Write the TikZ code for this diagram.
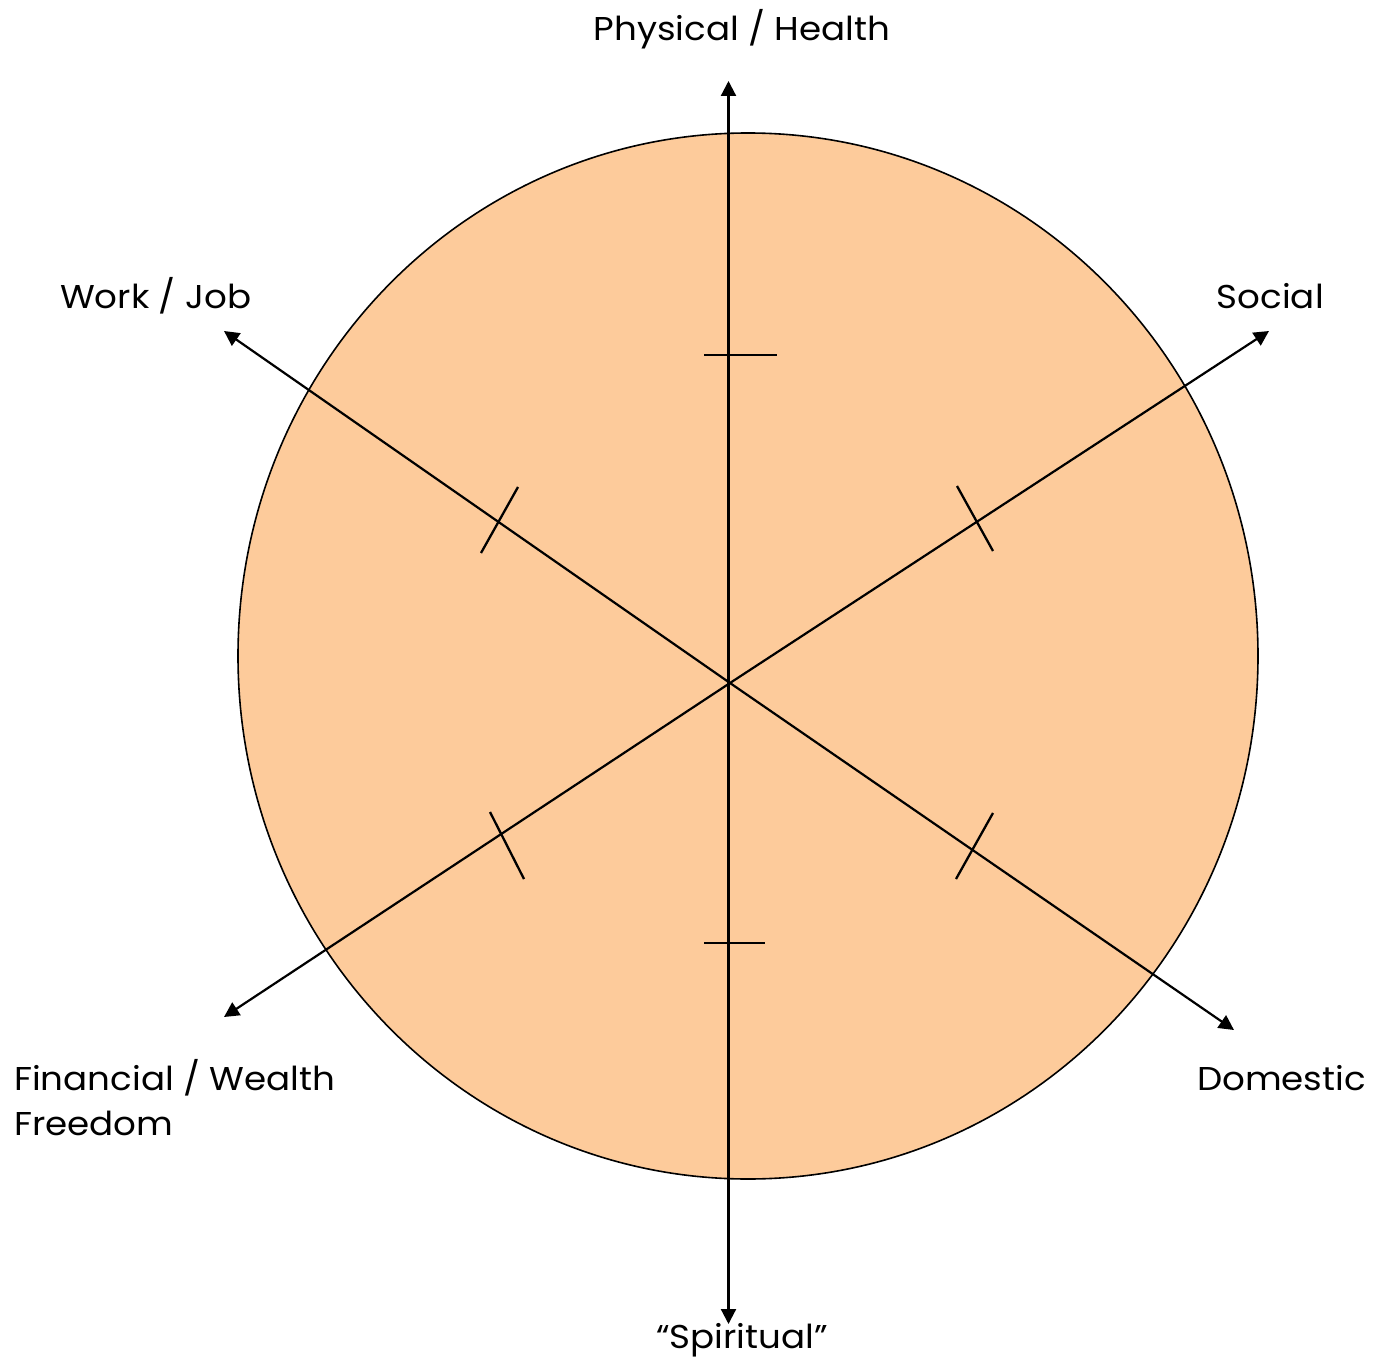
\documentclass[tikz,border=0pt]{standalone}
\usepackage{fontspec}
\setmainfont[FakeStretch=1.08]{Poppins}
\usetikzlibrary{arrows.meta}
\definecolor{wheelfill}{RGB}{253,203,155}
\begin{document}
\begin{tikzpicture}[x=1pt,y=-1pt,
  tip/.tip={Triangle[length=15pt,width=15pt]},
  axis/.style={line width=2.2pt,-tip},
  tick/.style={line width=2.3pt},
  lbl/.style={font=\fontsize{33}{45}\selectfont,inner sep=0pt}]
  \useasboundingbox (0,0) rectangle (1385,1359);
  % wheel
  \draw[fill=wheelfill,line width=1.6pt] (748,656) ellipse [x radius=510, y radius=523];
  % hub and axis ends
  \coordinate (hub) at (730,683);
  \coordinate (up) at (728.5,81);
  \coordinate (down) at (728.5,1324);
  \coordinate (wj) at (224,331);
  \coordinate (so) at (1269,331);
  \coordinate (fi) at (224,1017);
  \coordinate (dm) at (1234,1030);
  \draw[line width=2.2pt,tip-tip] (up) -- (down);
  \draw[axis] (hub) -- (wj);
  \draw[axis] (hub) -- (dm);
  \draw[axis] (hub) -- (so);
  \draw[axis] (hub) -- (fi);
  % tick marks
  \draw[tick] (704,355) -- (777,355);
  \draw[tick] (704,943) -- (765,943);
  \draw[tick] (518,487) -- (481,553);
  \draw[tick] (957,486) -- (993,551);
  \draw[tick] (993,813) -- (956,879);
  \draw[tick] (490,812) -- (524,879);
  % labels
  \node[lbl] (tPH) at (742,29) {Physical / Health};
  \node[lbl,anchor=west] (tWJ) at (60,296) {Work / Job};
  \node[lbl,anchor=east] (tSO) at (1324,296) {Social};
  \node[lbl,anchor=west,align=left] (tFI) at (14,1098) {Financial / Wealth\\Freedom};
  \node[lbl,anchor=east] (tDM) at (1366,1078) {Domestic};
  \node[lbl] (tSP) at (742,1340) {“Spiritual”};
\end{tikzpicture}
\end{document}
